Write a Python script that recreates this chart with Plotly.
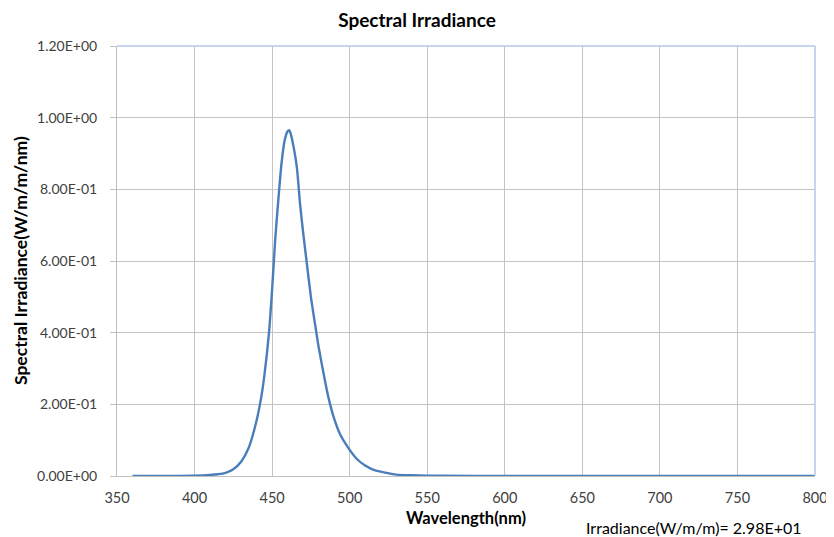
import plotly.graph_objects as go

wavelength_nm = [360, 380, 400, 410, 415, 420, 425, 430, 435, 440, 443, 445, 448, 450,
                 452, 454, 456, 458, 460, 461, 462, 464, 466, 468, 470, 472, 475,
                 478, 480, 483, 486, 490, 494, 500, 505, 510, 515, 520, 530, 540,
                 550, 560, 600, 650, 700, 750, 800]
irradiance = [0.0, 0.0, 0.001, 0.003, 0.005, 0.009, 0.019, 0.040, 0.08, 0.155, 0.22, 0.28,
              0.40, 0.52, 0.66, 0.77, 0.87, 0.935, 0.962, 0.965, 0.955, 0.915, 0.86,
              0.76, 0.68, 0.607, 0.50, 0.415, 0.36, 0.29, 0.225, 0.16, 0.115, 0.073,
              0.046, 0.029, 0.018, 0.012, 0.004, 0.002, 0.001, 0.0005, 0.0, 0.0, 0.0,
              0.0, 0.0]

y_tickvals = [0, 0.2, 0.4, 0.6, 0.8, 1.0, 1.2]
y_ticktext = ["0.00E+00", "2.00E-01", "4.00E-01", "6.00E-01", "8.00E-01", "1.00E+00", "1.20E+00"]
x_tickvals = [350, 400, 450, 500, 550, 600, 650, 700, 750, 800]

title_text = "Spectral Irradiance"
x_title = "Wavelength(nm)"
y_title = "Spectral Irradiance(W/m/m/nm)"
total_text = "Irradiance(W/m/m)= 2.98E+01"

FONT = "Lato"

# the page body adds an 8px offset, so the figure is 8px smaller on each side
W, H = 826, 529

fig = go.Figure()
fig.add_trace(go.Scatter(
    x=wavelength_nm, y=irradiance, mode="lines",
    line=dict(color="#4a7ebb", width=2.4, shape="spline", smoothing=0.6),
    showlegend=False, hoverinfo="x+y",
))

fig.update_layout(
    width=W, height=H,
    margin=dict(l=109, r=19, t=38, b=61, autoexpand=False),
    paper_bgcolor="white", plot_bgcolor="white",
    font=dict(family=FONT, color="#404040", size=14),
    title=dict(text="<b>" + title_text + "</b>", x=(417 - 8) / W, xref="container",
               xanchor="center", y=1 - 12 / H, yref="container", yanchor="middle",
               font=dict(family=FONT, size=19, color="#000000")),
    xaxis=dict(range=[350, 800], tickvals=x_tickvals, showgrid=True, gridcolor="#c4c4c4",
               gridwidth=1, showline=True, linecolor="#bfbfbf", linewidth=1,
               ticks="", zeroline=False, ticklabelstandoff=9,
               tickfont=dict(size=14.5, color="#404040")),
    yaxis=dict(range=[0, 1.2], tickvals=y_tickvals, ticktext=y_ticktext, showgrid=True,
               gridcolor="#c4c4c4", gridwidth=1, showline=True, linecolor="#bfbfbf",
               linewidth=1, ticks="outside", ticklen=6, tickcolor="#bfbfbf",
               zeroline=False, ticklabelstandoff=10,
               tickfont=dict(size=14, color="#404040")),
    shapes=[
        dict(type="line", xref="paper", yref="paper", x0=0, x1=1, y0=1, y1=1,
             line=dict(color="#b4c7e7", width=1.5), layer="above"),
        dict(type="line", xref="paper", yref="paper", x0=1, x1=1, y0=0, y1=1,
             line=dict(color="#b4c7e7", width=1.5), layer="above"),
    ],
    annotations=[
        dict(text="<b>" + x_title + "</b>", xref="paper", yref="paper", x=0.5, y=0,
             xanchor="center", yanchor="middle", yshift=-42, showarrow=False,
             font=dict(family=FONT, size=16.5, color="#000000")),
        dict(text="<b>" + y_title + "</b>", xref="paper", yref="paper", x=(20 - 117) / 698,
             y=(476 - 261) / 430, xanchor="center", yanchor="middle", textangle=-90,
             showarrow=False, font=dict(family=FONT, size=17.5, color="#000000")),
        dict(text=total_text, xref="paper", yref="paper", x=(694 - 117) / 698, y=0,
             xanchor="center", yanchor="middle", yshift=-51, showarrow=False,
             font=dict(family=FONT, size=16, color="#000000")),
    ],
)

fig.write_html("out.html")
